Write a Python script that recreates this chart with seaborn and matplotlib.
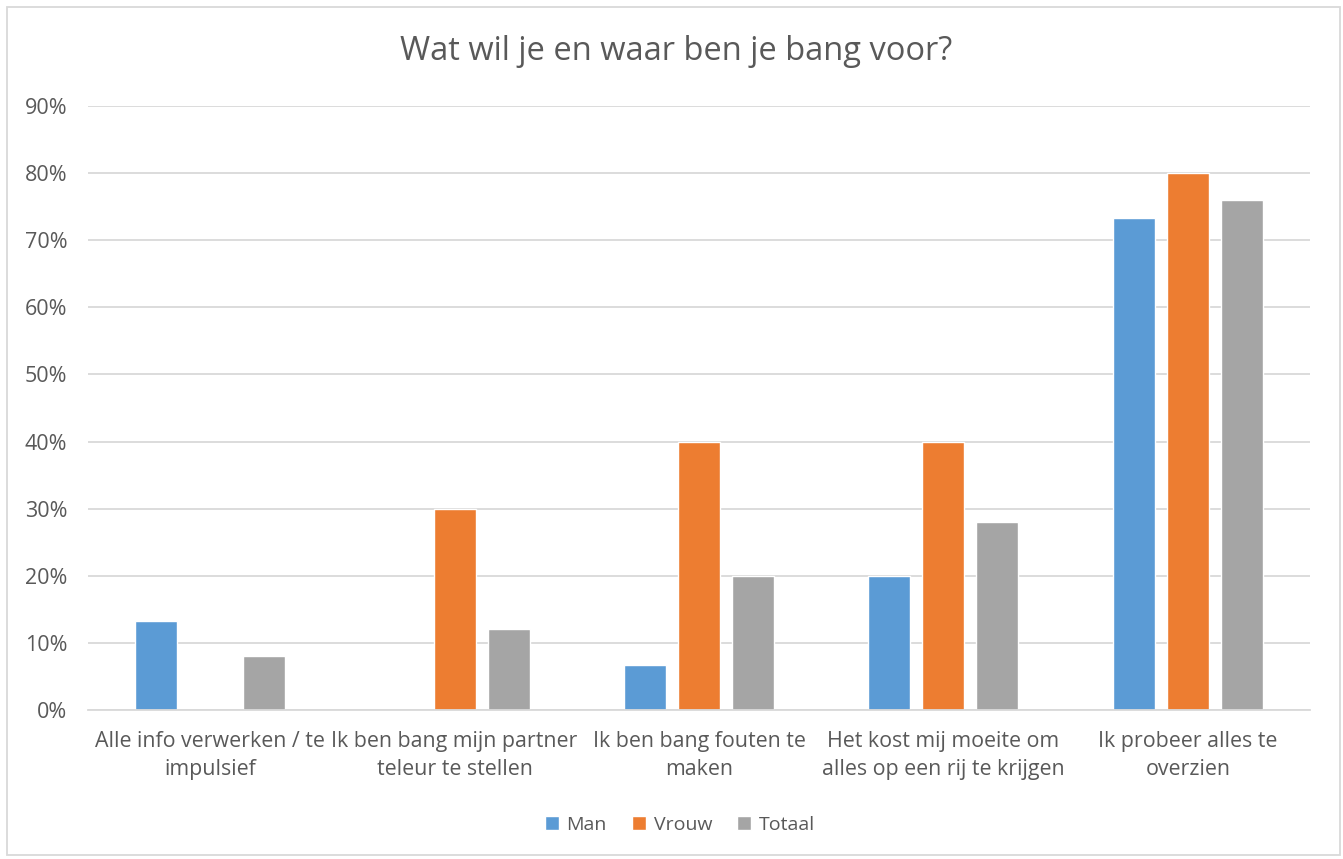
import matplotlib
matplotlib.use("Agg")
import matplotlib.pyplot as plt
import matplotlib.patches as mpatches
from matplotlib.ticker import PercentFormatter
import seaborn as sns
import pandas as pd

categories = [
    "Alle info verwerken / te\nimpulsief",
    "Ik ben bang mijn partner\nteleur te stellen",
    "Ik ben bang fouten te\nmaken",
    "Het kost mij moeite om\nalles op een rij te krijgen",
    "Ik probeer alles te\noverzien",
]
series = ["Man", "Vrouw", "Totaal"]
man = [0.133, 0.0, 0.067, 0.20, 0.733]
vrouw = [0.0, 0.30, 0.40, 0.40, 0.80]
totaal = [0.08, 0.12, 0.20, 0.28, 0.76]
colors = ["#5B9BD5", "#ED7D31", "#A5A5A5"]

df = pd.DataFrame({
    "categorie": categories * 3,
    "groep": [s for s in series for _ in categories],
    "waarde": man + vrouw + totaal,
})

sns.set_theme(style="white")
plt.rcParams["font.family"] = ["Open Sans", "DejaVu Sans"]
text_color = "#595959"

fig = plt.figure(figsize=(13.43, 8.59), dpi=100)
ax = fig.add_axes([88 / 1343, 1 - 710 / 859, (1310 - 88) / 1343, (710 - 106) / 859])

sns.barplot(data=df, x="categorie", y="waarde", hue="groep", palette=colors,
            order=categories, hue_order=series, width=0.663, gap=0.22,
            saturation=1, ax=ax, legend=True)

ax.set_ylim(0, 0.9)
ax.set_yticks([i / 10 for i in range(10)])
ax.yaxis.set_major_formatter(PercentFormatter(1.0, decimals=0))
ax.grid(axis="y", color="#D9D9D9", linewidth=1.3)
ax.set_axisbelow(True)
for side in ["top", "right", "left"]:
    ax.spines[side].set_visible(False)
ax.spines["bottom"].set_color("#D9D9D9")
ax.spines["bottom"].set_linewidth(1.3)
ax.set_xlabel("")
ax.set_ylabel("")
ax.tick_params(axis="x", length=0, labelsize=15.4, colors=text_color, pad=15)
ax.tick_params(axis="y", length=0, labelsize=15.5, colors=text_color, pad=15)
for lbl in ax.get_xticklabels():
    lbl.set_linespacing(1.45)

fig.suptitle("Wat wil je en waar ben je bang voor?", fontsize=23.5,
             color=text_color, x=676 / 1343, y=1 - 52 / 859, va="center")

handles, labels = ax.get_legend_handles_labels()
ax.legend_.remove()
fig.legend(handles, labels, loc="center", bbox_to_anchor=(680 / 1343, 1 - 825 / 859),
           ncol=3, frameon=False, fontsize=14, labelcolor=text_color,
           handlelength=0.7, handleheight=0.7, handletextpad=0.4, columnspacing=1.3)

fig.patches.append(mpatches.Rectangle((7 / 1343, 4 / 859), 1333 / 1343, 848 / 859,
                                      transform=fig.transFigure, fill=False,
                                      edgecolor="#D9D9D9", linewidth=1.3))

fig.savefig("out.png", dpi=100)
